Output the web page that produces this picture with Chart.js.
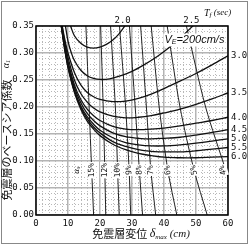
<!DOCTYPE html>
<html>
<head>
<meta charset="utf-8">
<script src="https://cdn.jsdelivr.net/npm/chart.js@4"></script>
<style>
html,body{margin:0;padding:0;background:#fff;}
#c{display:block;}
</style>
</head>
<body>
<canvas id="c" width="250" height="248"></canvas>
<script>
/* ===== data ===== */
const xTicks = [0,10,20,30,40,50,60];
const yTicks = [0,0.05,0.10,0.15,0.20,0.25,0.30,0.35];

// Tf curves: [delta(cm), alpha1]
const tfNames = ["2.0","2.5","3.0","3.5","4.0","4.5","5.0","5.5","6.0"];
const tf20 = [[10.8,0.35],[12,0.332],[14,0.318],[16,0.311],[18,0.309],[20,0.311],[22,0.316],[24,0.324],[26,0.336],[28,0.352]];
const tf25 = [[9.2,0.35],[10,0.322],[11,0.301],[12,0.286],[14,0.268],[16,0.258],[18,0.253],[20,0.251],[23,0.252],[26,0.257],[30,0.266],[34,0.279],[38,0.294],[42,0.312],[46,0.333],[49.5,0.353]];
const tf30 = [[8.2,0.35],[9,0.325],[10,0.300],[12,0.264],[14,0.241],[16,0.227],[18,0.219],[20,0.214],[24,0.210],[28,0.211],[32,0.216],[36,0.224],[40,0.234],[45,0.248],[50,0.262],[55,0.278],[60,0.295]];
const tf35 = [[8,0.355],[9,0.320],[10,0.292],[12,0.250],[14,0.225],[16,0.209],[18,0.198],[20,0.191],[24,0.183],[28,0.180],[32,0.181],[36,0.184],[40,0.189],[45,0.196],[50,0.205],[55,0.215],[60,0.226]];
const tf40 = [[8,0.35],[9,0.313],[10,0.284],[12,0.241],[14,0.214],[16,0.196],[18,0.184],[20,0.175],[24,0.164],[28,0.159],[32,0.158],[36,0.159],[40,0.161],[45,0.165],[50,0.170],[55,0.175],[60,0.181]];
const tf45 = [[8,0.35],[9,0.311],[10,0.280],[12,0.236],[14,0.208],[16,0.188],[18,0.175],[20,0.165],[24,0.152],[28,0.145],[32,0.142],[36,0.141],[40,0.142],[45,0.144],[50,0.148],[55,0.153],[60,0.158]];
const tf50 = [[7.9,0.35],[9,0.308],[10,0.277],[12,0.231],[14,0.202],[16,0.182],[18,0.168],[20,0.157],[24,0.143],[28,0.134],[32,0.130],[36,0.128],[40,0.128],[45,0.130],[50,0.133],[55,0.137],[60,0.141]];
const tf55 = [[7.9,0.35],[9,0.307],[10,0.275],[12,0.229],[14,0.199],[16,0.178],[18,0.163],[20,0.152],[24,0.136],[28,0.127],[32,0.121],[36,0.118],[40,0.117],[45,0.117],[50,0.119],[55,0.122],[60,0.125]];
const tf60 = [[7.9,0.35],[9,0.306],[10,0.273],[12,0.227],[14,0.196],[16,0.174],[18,0.159],[20,0.147],[24,0.131],[28,0.121],[32,0.114],[36,0.110],[40,0.107],[45,0.106],[50,0.106],[55,0.107],[60,0.108]];

// alpha_s lines: top -> label point (index 2) -> bottom
const asNames = ["15%","12%","10%","9%","8%","7%","6%","5%","4%"];
const as15 = [[15.6,0.35],[16.6,0.20],[17.4,0.083],[18.0,0]];
const as12 = [[20.2,0.35],[21.0,0.20],[21.5,0.083],[21.8,0]];
const as10 = [[23.3,0.35],[24.8,0.20],[25.5,0.083],[26.0,0]];
const as9  = [[26.1,0.35],[28.0,0.20],[29.1,0.083],[29.6,0]];
const as8  = [[29.2,0.35],[31.0,0.20],[32.3,0.083],[33.3,0]];
const as7  = [[32.7,0.35],[34.5,0.20],[35.9,0.083],[37.4,0]];
const as6  = [[36.0,0.35],[38.5,0.20],[41.2,0.083],[44.0,0]];
const as5  = [[41.0,0.35],[45.0,0.20],[49.4,0.083],[53.5,0]];
const as4  = [[47.0,0.35],[53.0,0.20],[59.3,0.083],[60.5,0.06]];

const veLabel = "200cm/s";
const veAt = [49.5,0.325];

/* ===== build ===== */
const tfSets = [tf20,tf25,tf30,tf35,tf40,tf45,tf50,tf55,tf60];
const asSets = [as15,as12,as10,as9,as8,as7,as6,as5,as4];
const pts = a => a.map(p=>({x:p[0],y:p[1]}));

const datasets = [];
tfSets.forEach((s,i)=>datasets.push({label:"Tf "+tfNames[i],data:pts(s),borderColor:"#111",borderWidth:1.3,tension:0.35}));
asSets.forEach((s,i)=>datasets.push({label:"as "+asNames[i],data:pts(s),borderColor:"#222",borderWidth:1,tension:0.3}));

const MONO = '9px "DejaVu Sans Mono"';

function drawParts(ctx,parts,x,y,align){
    let w=0;
    parts.forEach(p=>{ctx.font=p.f;w+=ctx.measureText(p.t).width;});
    let cx = align==="center"?x-w/2:align==="right"?x-w:x;
    parts.forEach(p=>{ctx.font=p.f;ctx.fillText(p.t,cx,y+(p.dy||0));cx+=ctx.measureText(p.t).width;});
    return w;
}

const deco = {
    id:"deco",
    beforeDraw(chart){
        const c=chart.ctx;
        c.save();c.fillStyle="#fff";c.fillRect(0,0,chart.width,chart.height);
        c.strokeStyle="#888";c.lineWidth=1;c.strokeRect(1.5,1.5,246,242);
        c.restore();
    },
    beforeDatasetsDraw(chart){
        const c=chart.ctx,a=chart.chartArea,xs=chart.scales.x,ys=chart.scales.y;
        c.save();c.strokeStyle="#b8b8b8";c.lineWidth=1;c.setLineDash([1,2]);
        for(let v=2;v<60;v+=2){ if(v%10===0) continue;
            const px=Math.round(xs.getPixelForValue(v))+0.5;
            c.beginPath();c.moveTo(px,a.top);c.lineTo(px,a.bottom);c.stroke();}
        for(let k=1;k<35;k++){ if(k%5===0) continue;
            const py=Math.round(ys.getPixelForValue(k/100))+0.5;
            c.beginPath();c.moveTo(a.left,py);c.lineTo(a.right,py);c.stroke();}
        c.restore();
    },
    afterDatasetsDraw(chart){
        const c=chart.ctx,a=chart.chartArea,xs=chart.scales.x,ys=chart.scales.y;
        c.save();
        // plot frame
        c.strokeStyle="#000";c.lineWidth=1.5;c.strokeRect(a.left,a.top,a.right-a.left,a.bottom-a.top);
        c.fillStyle="#111";c.textBaseline="middle";
        // Tf labels
        c.font=MONO;
        tfSets.forEach((s,i)=>{
            const last=s[s.length-1];
            if(i<2){c.textAlign="center";c.fillText(tfNames[i],xs.getPixelForValue(last[0])-3,a.top-5);}
            else{c.textAlign="left";c.fillText(tfNames[i],a.right+3,ys.getPixelForValue(last[1]));}
        });
        c.textAlign="left";
        drawParts(c,[{t:"T",f:'italic 10px "Liberation Serif"'},{t:"f",f:'italic 7px "Liberation Serif"',dy:2},{t:" (sec)",f:'italic 9px "Liberation Serif"'}],204,13,"left");
        // V_E label with white box
        const vx=xs.getPixelForValue(veAt[0]),vy=ys.getPixelForValue(veAt[1]);
        const vparts=[{t:"V",f:'italic 11px "Liberation Sans"'},{t:"E",f:'italic 7px "Liberation Sans"',dy:3},{t:"="+veLabel,f:'italic 11px "Liberation Sans"'}];
        let vw=0;vparts.forEach(p=>{c.font=p.f;vw+=c.measureText(p.t).width;});
        c.fillStyle="#fff";c.fillRect(vx-vw/2-1,vy-6,vw+2,13);
        c.fillStyle="#111";drawParts(c,vparts,vx,vy,"center");
        // alpha_s labels rotated along the lines
        asSets.forEach((s,i)=>{
            const p=s[2],q=s[0];
            const px=xs.getPixelForValue(p[0]),py=ys.getPixelForValue(p[1]);
            const ang=Math.atan2(ys.getPixelForValue(q[1])-py,xs.getPixelForValue(q[0])-px);
            c.save();c.translate(Math.min(px,a.right-5),py);c.rotate(ang);
            c.font='8px "DejaVu Sans Mono"';
            const w=c.measureText(asNames[i]).width;
            c.fillStyle="#fff";c.fillRect(-w/2-1,-4.5,w+2,9);
            c.fillStyle="#111";c.textAlign="center";c.fillText(asNames[i],0,0);
            c.restore();
        });
        // alpha_s caption
        c.save();c.translate(xs.getPixelForValue(as15[2][0])-15,ys.getPixelForValue(as15[2][1]));c.rotate(-Math.PI/2);
        c.fillStyle="#111";drawParts(c,[{t:"α",f:'italic 9px "Liberation Serif"'},{t:"s",f:'italic 6px "Liberation Serif"',dy:2}],0,0,"center");
        c.restore();
        // axis titles
        c.fillStyle="#111";c.textAlign="left";
        drawParts(c,[{t:"免震層変位 ",f:'11px "Noto Sans CJK JP"'},{t:"δ",f:'italic 12px "Liberation Serif"'},{t:"max",f:'italic 7px "Liberation Serif"',dy:3},{t:" (cm)",f:'italic 11px "Liberation Serif"'}],141,234,"center");
        c.save();c.translate(7,140);c.rotate(-Math.PI/2);
        c.font='11px "Noto Sans CJK JP"';c.textAlign="center";c.fillText("免震層のベースシア係数",0,0);
        c.restore();
        c.save();c.translate(6,64);c.rotate(-Math.PI/2);
        drawParts(c,[{t:"α",f:'italic 10px "Liberation Serif"'},{t:"1",f:'italic 7px "Liberation Serif"',dy:2}],0,0,"center");
        c.restore();
        c.restore();
    }
};

new Chart(document.getElementById("c"),{
    type:"scatter",
    data:{datasets},
    options:{
        responsive:false,animation:false,devicePixelRatio:1,
        layout:{padding:{left:0,top:26,right:22,bottom:0}},
        elements:{point:{radius:0},line:{fill:false}},
        datasets:{scatter:{showLine:true}},
        plugins:{legend:{display:false},tooltip:{enabled:false}},
        scales:{
            x:{type:"linear",min:0,max:60,
                afterBuildTicks:s=>{s.ticks=xTicks.map(v=>({value:v}));},
                afterFit:s=>{s.height=33;},
                grid:{color:"#b4b4b4",lineWidth:1.5,drawTicks:false},border:{display:false},
                ticks:{font:{family:"DejaVu Sans Mono",size:9},color:"#111",padding:3,maxRotation:0,callback:v=>String(v)}},
            y:{type:"linear",min:0,max:0.35,
                afterBuildTicks:s=>{s.ticks=yTicks.map(v=>({value:v}));},
                afterFit:s=>{s.width=36;},
                grid:{color:"#b4b4b4",lineWidth:1.5,drawTicks:false},border:{display:false},
                ticks:{font:{family:"DejaVu Sans Mono",size:9},color:"#111",padding:2,callback:v=>v.toFixed(2)}}
        }
    },
    plugins:[deco]
});
</script>
</body>
</html>
